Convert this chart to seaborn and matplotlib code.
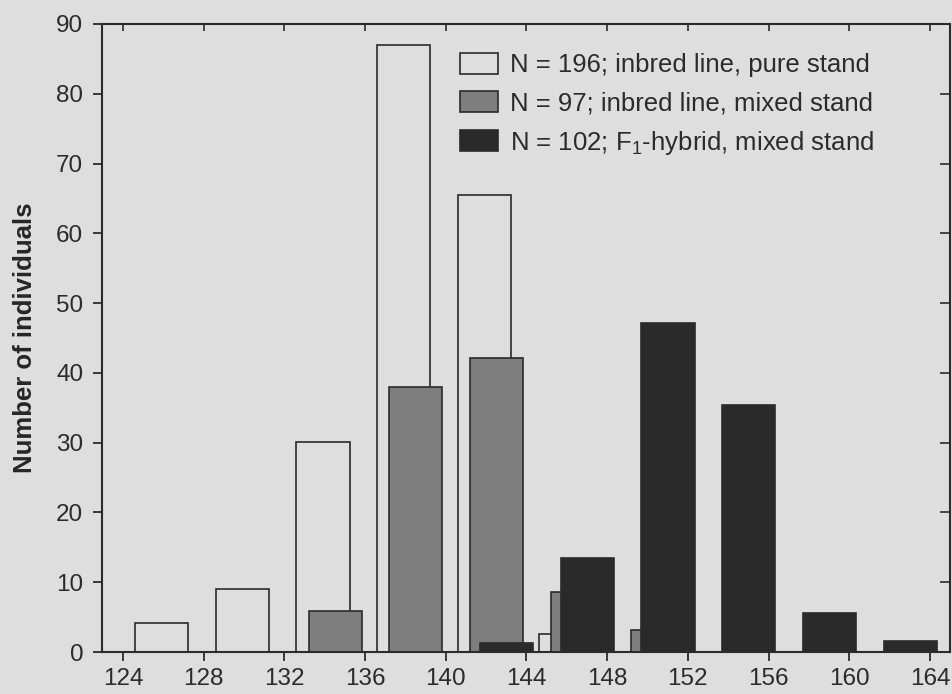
import matplotlib
matplotlib.use("Agg")
from matplotlib import pyplot as plt
from matplotlib.patches import Patch
import numpy as np
import pandas as pd
import seaborn as sb

# class start of each 4-unit bin, and counts
pure_bins = [124, 128, 132, 136, 140, 144]
pure_counts = [4.2, 9.1, 30.1, 87.0, 65.5, 2.6]

mixed_bins = [132, 136, 140, 144, 148]
mixed_counts = [5.9, 38.0, 42.1, 8.6, 3.1]

hybrid_bins = [140, 144, 148, 152, 156, 160]
hybrid_counts = [1.3, 13.5, 47.1, 35.4, 5.6, 1.6]

labels = ["N = 196; inbred line, pure stand",
          "N = 97; inbred line, mixed stand",
          "N = 102; F$_1$-hybrid, mixed stand"]

bg = '#dedede'
ink = '#2b2b2b'

sb.set_theme(style="ticks")
plt.rcParams['font.family'] = ['Liberation Sans', 'DejaVu Sans']
plt.rcParams['mathtext.default'] = 'regular'
plt.rcParams['text.color'] = ink
plt.rcParams['axes.edgecolor'] = ink

fig = plt.figure(figsize=(9.53, 6.94), dpi=100, facecolor=bg)
ax = fig.add_axes([0.107, 0.0605, 0.89, 0.905], facecolor=bg)

# bars sit inside each bin with a small shift per series
bw = 0.6575
series = [
    (pure_bins, pure_counts, 0.6, bg, 1),
    (mixed_bins, mixed_counts, 1.2, '#7e7e7e', 2),
    (hybrid_bins, hybrid_counts, 1.7, '#2a2a2a', 3),
]
for bins, counts, off, col, z in series:
    d = pd.DataFrame({'x': np.array(bins) + off + bw * 4 / 2, 'n': counts})
    sb.barplot(data=d, x='x', y='n', native_scale=True, orient='x', width=bw,
               errorbar=None, color=col, saturation=1, edgecolor=ink,
               linewidth=1.2, zorder=z, ax=ax)

ax.set_xlim(122.96, 165.0)
ax.set_ylim(0, 90)
xt = np.arange(124, 165, 4)
ax.set_xticks(xt)
ax.set_yticks(np.arange(0, 91, 10))
ax.set_xlabel('')
ax.set_ylabel('Number of individuals', fontsize=18.5, fontweight='bold')
ax.yaxis.set_label_coords(-0.077, 0.5)
ax.tick_params(direction='out', length=6.5, width=1.3, labelsize=17.5, colors=ink)
ax.tick_params(axis='x', pad=5)
ax.tick_params(axis='y', pad=7)

for s in ax.spines.values():
    s.set_visible(True)
    s.set_linewidth(1.5)

top = ax.secondary_xaxis('top')
top.set_xticks(xt)
top.tick_params(direction='in', length=5, width=1.2, labeltop=False, colors=ink)
right = ax.secondary_yaxis('right')
right.set_yticks(np.arange(0, 91, 10))
right.tick_params(direction='in', length=7, width=1.2, labelright=False, colors=ink)

handles = [Patch(facecolor=bg, edgecolor=ink, linewidth=1.2),
           Patch(facecolor='#7e7e7e', edgecolor=ink, linewidth=1.2),
           Patch(facecolor='#2a2a2a', edgecolor=ink, linewidth=1.2)]
ax.legend(handles, labels, loc='upper left', bbox_to_anchor=(0.422, 0.954),
          frameon=False, fontsize=18.5, handlelength=1.48, handleheight=0.9,
          labelspacing=0.52, handletextpad=0.47, borderpad=0, borderaxespad=0)

fig.savefig('out.png', dpi=100, facecolor=bg)
